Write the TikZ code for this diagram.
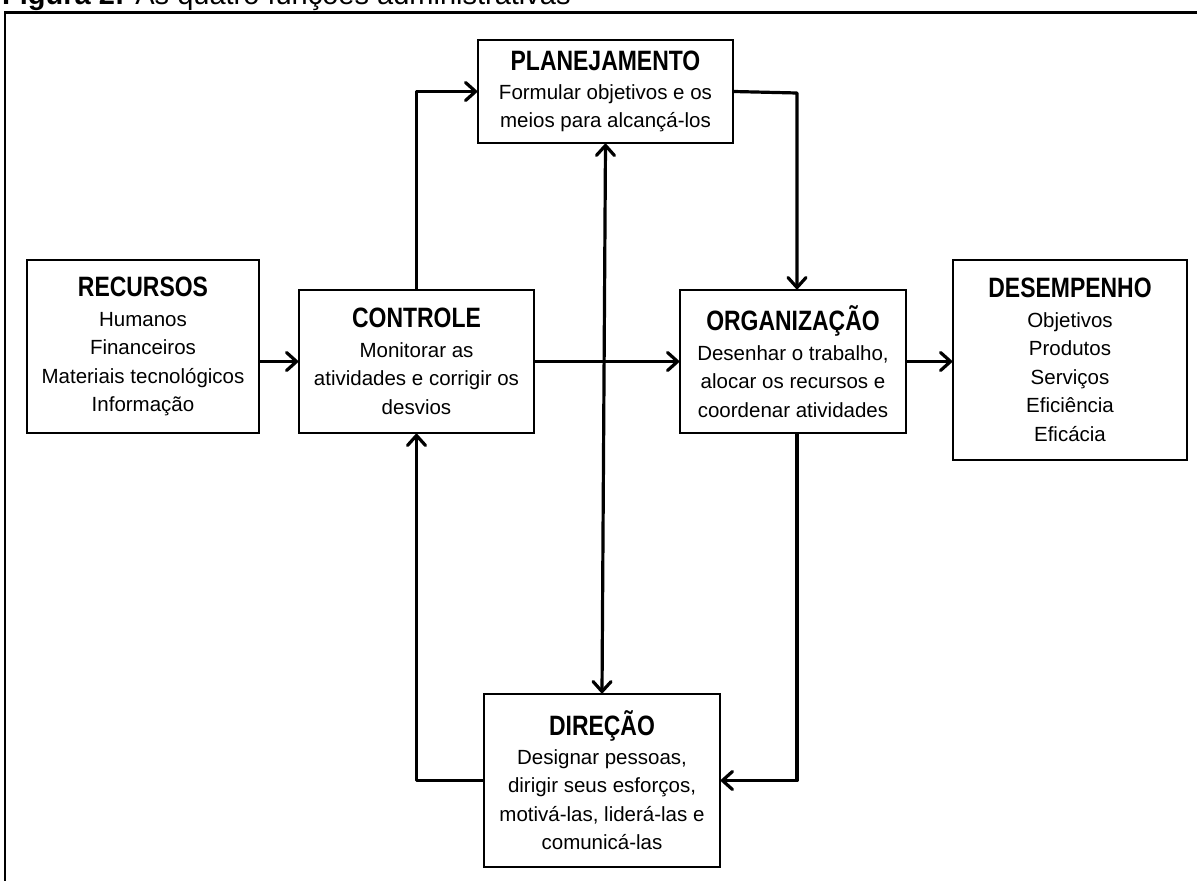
\documentclass[tikz,border=0pt]{standalone}
\usepackage{fontspec}
\setmainfont{Liberation Sans}
\newfontfamily\headfont[FakeStretch=0.82]{Liberation Sans}
\usetikzlibrary{arrows.meta,calc}
\newcommand{\hd}[1]{{\headfont\bfseries\fontsize{28}{30}\selectfont #1}}
\begin{document}
\begin{tikzpicture}[x=1pt,y=-1pt,
  box/.style={draw=black,line width=1.7pt,fill=white,inner sep=0pt,align=center,
    font=\fontsize{20.5}{28.5}\selectfont},
  conn/.style={line width=3.2pt,line join=round,line cap=round},
  tip/.style={-{Straight Barb[length=10pt,width=18pt,line cap=round,line join=round]}},
  bothtip/.style={{Straight Barb[length=10pt,width=18pt,line cap=round,line join=round]}-{Straight Barb[length=10pt,width=18pt,line cap=round,line join=round]}}
]
\useasboundingbox (0,0) rectangle (1197,881);
% frame
\draw[line width=2.2pt] (5,891) -- (5,12.5) -- (1210,12.5);
% title (cut at top)
\node[anchor=base west,inner sep=0pt,font=\fontsize{29}{32}\selectfont] (title) at (2,4)
  {\textbf{Figura 2:} As quatro funções administrativas};

% boxes
\node[box,minimum width=232pt,minimum height=173pt] (rec) at (143,346.5)
  {\hd{RECURSOS}\\[1pt]Humanos\\Financeiros\\Materiais tecnológicos\\Informação};
\node[box,minimum width=235pt,minimum height=143pt] (ctl) at (416.5,361.5)
  {\hd{CONTROLE}\\[1pt]Monitorar as\\atividades e corrigir os\\desvios};
\node[box,minimum width=255pt,minimum height=103pt] (pla) at (605.5,91.5)
  {\hd{PLANEJAMENTO}\\[0pt]Formular objetivos e os\\meios para alcançá-los};
\node[box,minimum width=226pt,minimum height=143pt] (org) at (793,361.5)
  {\hd{ORGANIZAÇÃO}\\[1pt]Desenhar o trabalho,\\alocar os recursos e\\coordenar atividades};
\node[box,minimum width=234pt,minimum height=200pt] (des) at (1070,360)
  {\hd{DESEMPENHO}\\[1pt]Objetivos\\Produtos\\Serviços\\Eficiência\\Eficácia};
\node[box,minimum width=236pt,minimum height=173pt] (dir) at (602,780.5)
  {\hd{DIREÇÃO}\\[0pt]Designar pessoas,\\dirigir seus esforços,\\motivá-las, liderá-las e\\comunicá-las};

% connectors
\coordinate (c1) at (797,93);
\draw[conn,tip] (rec.east |- ctl.center) -- (ctl.west);
\draw[conn,tip] (ctl.east) -- (org.west);
\draw[conn,tip] (org.east) -- (des.west |- org.center);
\draw[conn,tip] (ctl.north) |- (pla.west);
\draw[conn,tip] (pla.east) -- (c1) -- (c1 |- org.north);
\draw[conn,bothtip] (pla.south) -- (dir.north);
\draw[conn,tip] (c1 |- org.south) |- (dir.east);
\draw[conn,tip] (dir.west) -| (ctl.south);
\end{tikzpicture}
\end{document}
